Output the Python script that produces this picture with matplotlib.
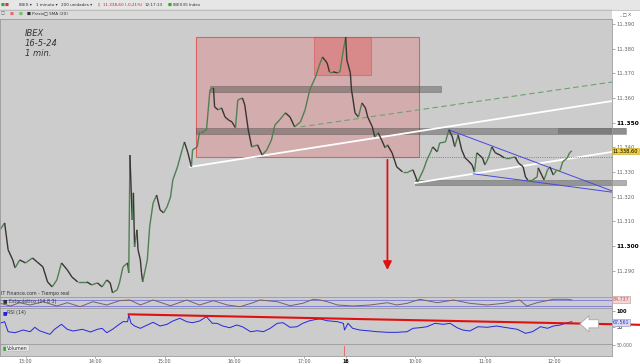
import numpy as np
import matplotlib.pyplot as plt
from matplotlib.collections import LineCollection
from matplotlib.patches import Rectangle

W, H = 640, 364
PX_BAR = 1.16          # pixels per 1-minute bar
BG = '#cccccc'

# precio: barras de 1 min desde las 12:38 del dia 15 (sin hueco nocturno)
bars = [0, 4, 7, 11, 13, 17, 22, 28, 32, 37,
        41, 45, 49, 53, 58, 62, 67, 75, 79, 84,
        88, 92, 95, 97, 101, 103, 106, 110, 111, 112,
        114, 115, 116, 118, 119, 121, 122, 123, 127, 129,
        132, 135, 138, 141, 144, 147, 149, 153, 157, 159,
        162, 165, 166, 170, 172, 175, 178, 181, 184, 185,
        188, 191, 194, 197, 200, 203, 205, 209, 211, 214,
        217, 222, 226, 230, 234, 237, 241, 246, 250, 254,
        259, 263, 267, 272, 276, 278, 282, 284, 287, 291,
        293, 296, 298, 299, 302, 303, 304, 306, 309, 312,
        315, 317, 321, 323, 326, 329, 332, 334, 338, 342,
        347, 352, 356, 360, 365, 368, 371, 373, 377, 379,
        384, 387, 390, 392, 395, 398, 401, 403, 407, 409,
        411, 416, 418, 421, 424, 427, 431, 435, 440, 444,
        447, 451, 453, 455, 459, 463, 464, 467, 469, 472,
        474, 477, 480, 483, 485, 489, 491, 493]
close = [11306.6, 11309.4, 11298.5, 11294.4, 11291.2, 11294.4, 11293.2, 11295.2, 11293.6, 11291.6,
         11285.5, 11283.5, 11286.3, 11293.2, 11290.4, 11287.5, 11285.5, 11285.5, 11284.3, 11285.1,
         11283.5, 11286.3, 11285.1, 11281.1, 11282.3, 11285.1, 11291.6, 11293.2, 11289.2, 11336.9,
         11310.6, 11321.6, 11299.7, 11306.6, 11298.5, 11294.4, 11289.2, 11285.5, 11294.4, 11307.8,
         11317.5, 11320.7, 11314.7, 11313.5, 11315.9, 11319.9, 11326.8, 11332.1, 11339.0, 11342.2,
         11337.8, 11332.1, 11339.0, 11340.2, 11346.3, 11346.3, 11347.1, 11363.3, 11364.1, 11356.4,
         11355.2, 11356.0, 11352.3, 11351.1, 11350.3, 11347.9, 11359.2, 11360.0, 11357.2, 11347.1,
         11340.2, 11341.0, 11336.9, 11339.0, 11343.0, 11349.1, 11351.1, 11354.0, 11352.3, 11348.3,
         11350.3, 11355.2, 11363.3, 11368.5, 11374.2, 11376.6, 11374.2, 11370.6, 11370.6, 11370.2,
         11370.6, 11379.5, 11384.7, 11375.4, 11370.2, 11363.3, 11360.4, 11354.0, 11352.3, 11358.0,
         11356.0, 11352.3, 11348.3, 11344.2, 11345.9, 11343.0, 11339.8, 11341.0, 11337.8, 11332.1,
         11330.1, 11330.1, 11330.9, 11326.0, 11330.9, 11334.9, 11337.8, 11340.2, 11338.2, 11341.8,
         11342.2, 11347.1, 11344.2, 11340.2, 11345.0, 11339.0, 11335.7, 11334.9, 11332.9, 11330.1,
         11337.8, 11335.7, 11332.9, 11335.7, 11340.2, 11337.8, 11336.9, 11335.7, 11335.7, 11336.1,
         11333.7, 11332.1, 11328.0, 11326.8, 11326.8, 11328.0, 11331.7, 11328.8, 11326.8, 11330.9,
         11332.1, 11328.8, 11330.9, 11330.9, 11334.1, 11335.7, 11337.8, 11338.6]

rsi_bars = [0, 4, 7, 13, 20, 26, 30, 34, 43, 47, 53, 58, 63, 71, 78, 84, 88, 92, 97, 102,
            106, 110, 111, 113, 116, 121, 127, 132, 138, 144, 149, 155, 161, 166, 172, 178,
            183, 187, 192, 198, 204, 209, 216, 222, 227, 233, 239, 244, 250, 256, 261, 267,
            273, 276, 282, 291, 296, 297, 300, 304, 310, 317, 325, 334, 342, 351, 356, 362,
            368, 375, 382, 388, 394, 399, 405, 412, 420, 428, 437, 446, 453, 459, 466, 472,
            477, 483, 489, 493]
rsi = [61.6, 66.6, 35.3, 32.2, 40.6, 35.3, 49.1, 38.4, 27.2, 42.8, 58.4, 42.8, 37.5, 42.8,
       34.4, 42.8, 45.9, 32.2, 42.8, 56.3, 66.6, 66.6, 87.5, 61.6, 53.1, 45.9, 56.3, 64.7,
       53.1, 58.4, 68.8, 77.2, 66.6, 63.4, 68.8, 82.2, 61.6, 61.6, 53.1, 47.8, 56.3, 50.9,
       35.3, 38.4, 35.3, 45.9, 61.6, 63.4, 49.1, 50.9, 61.6, 69.7, 74.1, 75.0, 69.7, 66.6,
       61.6, 40.6, 61.6, 45.9, 40.6, 38.4, 35.3, 33.4, 33.4, 35.3, 45.9, 47.8, 50.9, 61.6,
       58.4, 61.6, 47.8, 40.6, 37.5, 50.9, 49.1, 53.1, 47.8, 42.8, 30.3, 35.3, 50.9, 45.9,
       53.1, 56.3, 63.4, 66.6]

sto_bars = [0, 9, 17, 26, 37, 49, 58, 69, 80, 92, 103, 112, 121, 132, 147, 161, 172, 184,
            196, 207, 218, 224, 239, 250, 261, 270, 276, 282, 291, 304, 319, 334, 342, 351,
            362, 377, 391, 405, 420, 434, 448, 454, 463, 477, 489, 493]
sto = [47, 20, 53, 30, 63, 20, 53, 13, 63, 30, 73, 80, 30, 80, 23, 80, 30, 73, 30, 13,
       53, 80, 63, 23, 47, 87, 80, 63, 30, 20, 30, 53, 30, 47, 87, 53, 80, 47, 30, 47,
       80, 20, 53, 87, 87, 80]

vol_bars = [297]
vol = [47000]

tick_bars = [22, 82, 142, 202, 262, 298, 358, 418, 478]
tick_labels = ['13:00', '14:00', '15:00', '16:00', '17:00', '16', '10:00', '11:00', '12:00']
price_ticks = [11290, 11300, 11310, 11320, 11330, 11340, 11350, 11360, 11370, 11380, 11390]

# dibujos del analista
zone_big = (169, 361, 11336.1, 11384.7)
zone_top = (271, 320, 11369.3, 11384.7)
bands = [(181, 380, 11362.5, 11364.9), (169, 540, 11345.4, 11347.9), (358, 540, 11324.8, 11326.8)]
white_lines = [((164, 11332.1), (528, 11358.8)), ((358, 11325.6), (528, 11338.2))]
green_line = ((259, 11348.3), (528, 11366.5))
blue_lines = [((387, 11347.1), (532, 11321.6)), ((408, 11329.3), (532, 11321.6))]
last_level = (330, 11336.1)
arrow_bar, arrow_to = 334, 11289.2
rsi_trend = ((111, 89.6), (551, 57.0))
last_price = 11338.60


def px_axes(x0, y0, x1, y1):
    return fig.add_axes([x0 / W, 1 - y1 / H, (x1 - x0) / W, (y1 - y0) / H])


def ftext(x, y, s, **kw):
    fig.text(x / W, 1 - y / H, s, va='center', **kw)


fig = plt.figure(figsize=(6.4, 3.64), dpi=100, facecolor='white')
xmax = 612 / PX_BAR

# ---- panel de precio ----
ax = px_axes(0, 19, 612, 297)
ax.set_facecolor(BG)
ax.set_xlim(0, xmax)
ax.set_ylim(11279.4, 11392.0)

x0, x1, y0, y1 = zone_big
ax.add_patch(Rectangle((x0, y0), x1 - x0, y1 - y0, fc='#e08080', alpha=0.4, ec='none'))
ax.add_patch(Rectangle((x0, y0), x1 - x0, y1 - y0, fc='none', ec='#e06060', lw=0.8))
x0, x1, y0, y1 = zone_top
ax.add_patch(Rectangle((x0, y0), x1 - x0, y1 - y0, fc='#e06060', alpha=0.45, ec='#e04040', lw=0.8))
for i, (b0, b1, p0, p1) in enumerate(bands):
    ax.add_patch(Rectangle((b0, p0), b1 - b0, p1 - p0, fc='#505050', alpha=0.45,
                           ec='#444444', lw=0.5, clip_on=False))
ax.add_patch(Rectangle((481, bands[1][2]), bands[1][1] - 481, bands[1][3] - bands[1][2],
                       fc='#505050', alpha=0.35, ec='none', clip_on=False))

for (a, b) in white_lines:
    ax.plot([a[0], b[0]], [a[1], b[1]], color='white', lw=1.3)
ax.plot([green_line[0][0], green_line[1][0]], [green_line[0][1], green_line[1][1]],
        color='#70a070', lw=0.8, ls=(0, (5, 3)))
for (a, b) in blue_lines:
    ax.plot([a[0], b[0]], [a[1], b[1]], color='#4848e0', lw=0.7)
ax.plot([last_level[0], xmax], [last_level[1]] * 2, color='#666666', lw=0.6, ls=':')

# serie de precio
pts = np.column_stack([bars, close])
segs = np.stack([pts[:-1], pts[1:]], axis=1)
cols = ['#4f7f52' if c2 >= c1 else '#3b3434' for c1, c2 in zip(close[:-1], close[1:])]
ax.add_collection(LineCollection(segs, colors=cols, linewidths=1.0))

ax.annotate('', xy=(arrow_bar, arrow_to), xytext=(arrow_bar, last_level[1]),
            arrowprops=dict(arrowstyle='-|>,head_length=0.5,head_width=0.25',
                            color='#e01010', lw=1.3))

ax.yaxis.tick_right()
ax.set_yticks(price_ticks)
ax.set_yticklabels([f'{t // 1000}.{t % 1000:03d}' for t in price_ticks])
for lab, t in zip(ax.get_yticklabels(), price_ticks):
    if t in (11300, 11350):
        lab.set_fontweight('bold')
        lab.set_color('black')
        lab.set_fontsize(4.2)
    else:
        lab.set_color('#666666')
        lab.set_fontsize(3.8)
ax.tick_params(axis='y', length=2, width=0.5, color='#888888', pad=1.5)
ax.set_xticks([])
for s in ax.spines.values():
    s.set_color('#999999')
    s.set_linewidth(0.6)

price_txt = f'{last_price:,.2f}'.replace(',', 'X').replace('.', ',').replace('X', '.')
ax.text(xmax + 0.5, last_price, price_txt, fontsize=3.6, va='center', ha='left', color='black',
        bbox=dict(boxstyle='square,pad=0.15', fc='#f0d040', ec='#c8a820', lw=0.4),
        clip_on=False, zorder=10)

for i, s in enumerate(['IBEX', '16-5-24', '1 min.']):
    ax.text(25 / PX_BAR, 11390 - (34 + 10 * i - 24) * 0.405, s, fontsize=6, style='italic',
            color='#333333', va='center')

# ---- estocastico ----
axs = px_axes(0, 297, 612, 308)
axs.set_facecolor(BG)
axs.set_xlim(0, xmax)
axs.set_ylim(0, 110)
axs.axhline(80, color='#8080e0', lw=0.7)
axs.axhline(20, color='#8080e0', lw=0.7)
axs.plot(sto_bars, sto, color='#7a6060', lw=0.7)
axs.set_xticks([])
axs.set_yticks([])

# ---- RSI ----
axr = px_axes(0, 308, 612, 344)
axr.set_facecolor(BG)
axr.set_xlim(0, xmax)
axr.set_ylim(-3.1, 109.4)
axr.plot(rsi_bars, rsi, color='#2525e0', lw=0.7)
axr.plot([rsi_trend[0][0], rsi_trend[1][0]], [rsi_trend[0][1], rsi_trend[1][1]],
         color='#e01010', lw=1.5, clip_on=False)
axr.annotate('', xy=(500, 60), xytext=(516, 60),
             arrowprops=dict(arrowstyle='simple,head_length=0.5,head_width=0.9,tail_width=0.45',
                             fc='white', ec='#a8a8a8', lw=0.6, mutation_scale=13,
                             shrinkA=0, shrinkB=0))
axr.yaxis.tick_right()
axr.set_yticks([100, 50])
axr.set_yticklabels(['100', '50'])
axr.tick_params(axis='y', length=2, width=0.5, color='#888888', pad=1.5, labelsize=3.6)
axr.get_yticklabels()[0].set_fontweight('bold')
axr.set_xticks([])
axr.text(xmax + 0.5, 64, '67,561', fontsize=3.4, color='#3030c0', va='center',
         bbox=dict(boxstyle='square,pad=0.15', fc='#d8d8f0', ec='#9090c0', lw=0.4),
         clip_on=False, zorder=10)

# ---- volumen ----
axv = px_axes(0, 344, 612, 356)
axv.set_facecolor(BG)
axv.set_xlim(0, xmax)
axv.set_ylim(0, 54000)
axv.bar(vol_bars, vol, width=1.0, color='#e07070')
axv.yaxis.tick_right()
axv.set_yticks([50000])
axv.set_yticklabels(['50.000'])
axv.tick_params(axis='y', length=2, width=0.5, color='#888888', pad=1.5, labelsize=3.3,
                labelcolor='#666666')
axv.set_xticks(tick_bars)
axv.set_xticklabels(tick_labels)
axv.tick_params(axis='x', length=1.5, width=0.5, color='#888888', pad=0.5, labelsize=3.4,
                labelcolor='#555555')
for lab, t in zip(axv.get_xticklabels(), tick_labels):
    if t == '16':
        lab.set_fontweight('bold')
        lab.set_color('black')

for a in (axs, axr, axv):
    for s in a.spines.values():
        s.set_color('#999999')
        s.set_linewidth(0.6)

axs.text(xmax + 0.5, 84, '84,737', fontsize=3.4, color='#c05050', va='center',
         bbox=dict(boxstyle='square,pad=0.15', fc='#f0d8d8', ec='#c09090', lw=0.4),
         clip_on=False, zorder=10)

# leyendas de los paneles
ftext(1, 294, 'IT Finance.com - Tiempo real', fontsize=3.4, color='#333333')
ftext(3, 301.5, '\u25a0 Estocástico (14 8 3)', fontsize=3.4, color='#333333')
ftext(3, 312.5, '\u25a0', fontsize=3.4, color='#2020e0')
ftext(7, 312.5, 'RSI (14)', fontsize=3.4, color='#333333')
ftext(3, 348, '\u25a0', fontsize=3.4, color='#30a030')
ftext(7, 348, 'Volumen', fontsize=3.4, color='#333333',
      bbox=dict(boxstyle='square,pad=0.2', fc='#eeeeee', ec='#aaaaaa', lw=0.3))

# ---- barra de herramientas ----
fig.patches.append(Rectangle((0, 1 - 9.5 / H), 1, 9.5 / H, transform=fig.transFigure,
                             fc='#e6e6e6', ec='none'))
fig.patches.append(Rectangle((0, 1 - 19 / H), 612 / W, 9.5 / H, transform=fig.transFigure,
                             fc='#dadada', ec='none'))
fig.add_artist(plt.Line2D([0, 1], [1 - 9.5 / H] * 2, transform=fig.transFigure,
                          color='#b0b0b0', lw=0.5))
tb = dict(fontsize=3.0, color='#333333')
ftext(1, 5, '\u25a0', fontsize=3.0, color='#40a040')
ftext(5, 5, '\u25a0', fontsize=3.0, color='#d04040')
ftext(19, 5, 'IBEX \u25be', **tb)
ftext(36, 5, '1 minuto \u25be', **tb)
ftext(61, 5, '200 unidades \u25be', **tb)
ftext(97, 5, '\u2016', fontsize=3.0, color='#777777')
ftext(103, 5, '11.338,60 (-0,21%)', fontsize=3.0, color='#d02020')
ftext(145, 5, '12:17:13', **tb)
ftext(168, 5, '\u25a0', fontsize=3.0, color='#20b020')
ftext(173, 5, 'IBEX35 Index', **tb)
ftext(1, 13.5, '\u25a1', fontsize=3.0, color='#555555')
ftext(10, 13.5, '\u25a0', fontsize=3.0, color='#e07070')
ftext(19, 13.5, '\u25a0', fontsize=3.0, color='#70c070')
ftext(27, 13.5, '\u25a0 Precio', **tb)
ftext(44, 13.5, '\u25a1 SMA (20)', **tb)
ftext(619, 14, '_ \u25a1 X', fontsize=3.2, color='#555555')

fig.savefig('out.png', dpi=100, facecolor='white')
